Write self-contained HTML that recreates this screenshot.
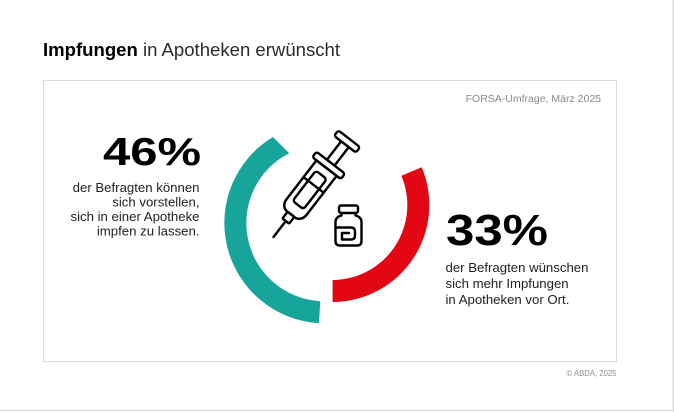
<!DOCTYPE html>
<html>
<head>
<meta charset="utf-8">
<style>
  html, body { margin:0; padding:0; background:#fff; }
  body { width:674px; height:412px; overflow:hidden; }
  svg { display:block; }
  text { font-family: "Liberation Sans", Arial, sans-serif; }
</style>
</head>
<body>
<svg width="674" height="412" viewBox="0 0 674 412" xmlns="http://www.w3.org/2000/svg">
  <rect x="0" y="0" width="674" height="412" fill="#fff"/>
  <!-- page frame lines -->
  <line x1="0" y1="410.5" x2="674" y2="410.5" stroke="#d6d6d6" stroke-width="1.2"/>
  <line x1="673.3" y1="0" x2="673.3" y2="412" stroke="#d6d6d6" stroke-width="1.2"/>

  <!-- Title -->
  <text x="43" y="56" font-size="18.5" fill="#111" textLength="297" lengthAdjust="spacingAndGlyphs"><tspan font-weight="bold" fill="#000">Impfungen</tspan><tspan fill="#2a2a2a"> in Apotheken erwünscht</tspan></text>

  <!-- Box -->
  <rect x="43.5" y="80.5" width="573" height="281" fill="#fff" stroke="#dcdcdc" stroke-width="1"/>

  <text x="601" y="102" font-size="10.5" fill="#8a8a8a" text-anchor="end">FORSA-Umfrage, März 2025</text>

  <!-- Left stat -->
  <text x="103" y="165" font-size="39" font-weight="bold" fill="#000" textLength="98" lengthAdjust="spacingAndGlyphs">46%</text>
  <g font-size="13.2" fill="#222" text-anchor="end">
    <text x="199.5" y="192">der Befragten können</text>
    <text x="199.5" y="206.5">sich vorstellen,</text>
    <text x="199.5" y="221">sich in einer Apotheke</text>
    <text x="199.5" y="235.5">impfen zu lassen.</text>
  </g>

  <!-- Arcs -->
  <path d="M319.0,323.1 A100.3,100.3 0 0 1 272.95,137.0 L289.2,153.2 A78.3,78.3 0 0 0 320.2,301.2 Z" fill="#17a59b"/>
  <path d="M421.7,167.3 A97,97 0 0 1 332.6,302 L332.6,280 A75,75 0 0 0 401.4,175.8 Z" fill="#e30613"/>

  <!-- Syringe -->
  <g transform="translate(273.5,237) rotate(-52.4) scale(1.06)" fill="none" stroke="#000" stroke-width="2.3" stroke-linejoin="round" stroke-linecap="round">
    <line x1="0" y1="0" x2="19" y2="0"/>
    <rect x="19" y="-4" width="8" height="8" rx="1"/>
    <path d="M27,-6 L27,6 M27,-6 Q29,-12 36,-12 L82,-12 L82,12 L36,12 Q29,12 27,6"/>
    <rect x="38" y="-6.5" width="36" height="13" rx="3"/>
    <line x1="62" y1="-12" x2="62" y2="12"/>
    <rect x="82" y="-17" width="6.5" height="34" rx="2.5"/>
    <rect x="88.5" y="-4.5" width="22" height="9" rx="1"/>
    <rect x="110.5" y="-13" width="6.5" height="26" rx="2.5"/>
  </g>

  <!-- Vial -->
  <g fill="none" stroke="#000" stroke-width="2.4" stroke-linejoin="round" stroke-linecap="round">
    <rect x="339" y="205.5" width="19" height="7.5" rx="2"/>
    <path d="M341.5,213 L341.5,215.5 Q335.5,217 335.5,222 L335.5,241 Q335.5,245.5 340,245.5 L357,245.5 Q361.5,245.5 361.5,241 L361.5,222 Q361.5,217 355.5,215.5 L355.5,213"/>
    <path d="M335.5,227.5 L351,227.5 Q355,227.5 355,231.5 L355,235.5 Q355,239.5 351,239.5 L342,239.5 L342,233 L349,233"/>
  </g>

  <!-- Right stat -->
  <text x="446" y="245" font-size="44" font-weight="bold" fill="#000" textLength="102" lengthAdjust="spacingAndGlyphs">33%</text>
  <g font-size="13.2" fill="#222">
    <text x="445.5" y="272">der Befragten wünschen</text>
    <text x="445.5" y="288">sich mehr Impfungen</text>
    <text x="445.5" y="304">in Apotheken vor Ort.</text>
  </g>

  <text x="616.5" y="376" font-size="8.6" fill="#8f8f8f" text-anchor="end" textLength="50" lengthAdjust="spacingAndGlyphs">© ABDA, 2025</text>
</svg>
</body>
</html>
